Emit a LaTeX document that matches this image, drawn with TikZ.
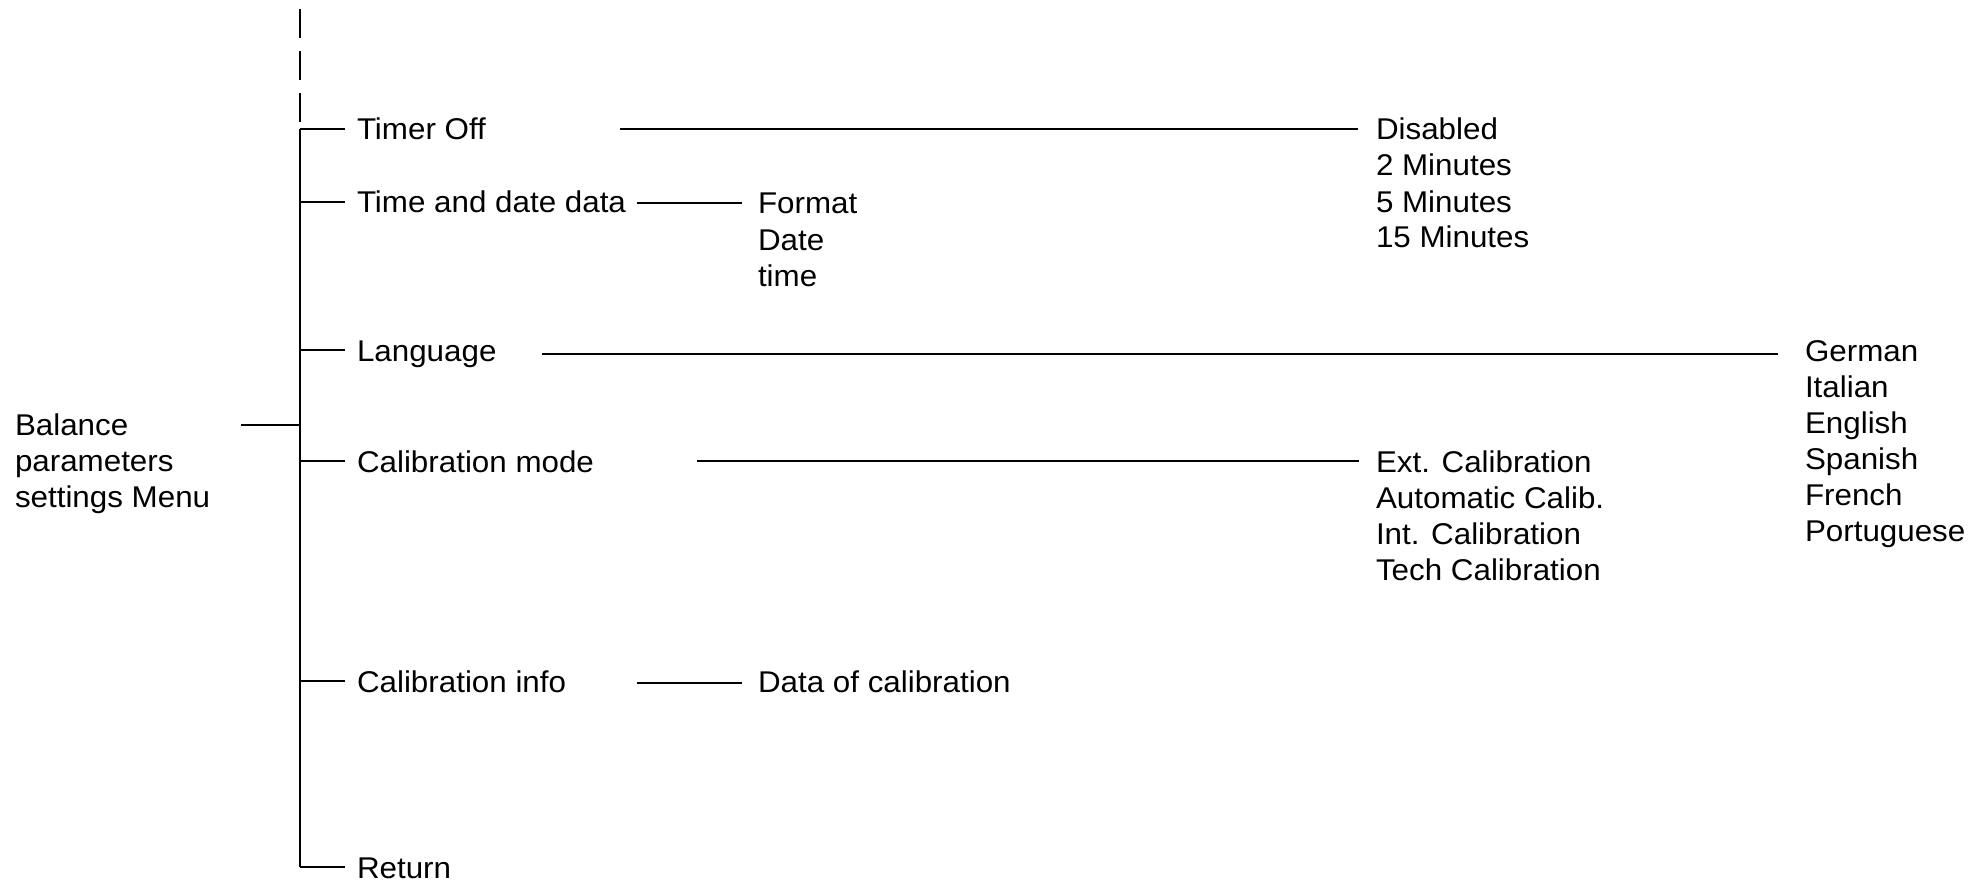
\documentclass[tikz,border=0pt]{standalone}
\usepackage{fontspec}
\setmainfont[FakeStretch=1.045]{Liberation Sans}
\begin{document}
\begin{tikzpicture}[x=0.5pt,y=-0.5pt,
  lbl/.style={anchor=base west,inner sep=0pt,outer sep=0pt,align=left,font=\fontsize{15}{18}\selectfont},
  ln/.style={line width=1.1pt,line cap=butt}]
\useasboundingbox (0,0) rectangle (1986,882);
% nodes (multi-line nodes are placed by the baseline of their last line)
\node[lbl] (bal) at (15,507) {Balance\\parameters\\settings Menu};
\node[lbl] (tim) at (357,140) {Timer Off};
\node[lbl] (tdd) at (357,213) {Time and date data};
\node[lbl] (lan) at (357,361) {Language};
\node[lbl] (cal) at (357,472) {Calibration mode};
\node[lbl] (cin) at (357,692) {Calibration info};
\node[lbl] (ret) at (357,878) {Return};
\node[lbl] (dis) at (1376,248) {Disabled\\2 Minutes\\5 Minutes\\15 Minutes};
\node[lbl] (fmt) at (758,286) {Format\\Date\\time};
\node[lbl] (ger) at (1805,541) {German\\Italian\\English\\Spanish\\French\\Portuguese};
\node[lbl] (ext) at (1376,580) {Ext. Calibration\\Automatic Calib.\\Int. Calibration\\Tech Calibration};
\node[lbl] (dat) at (758,692) {Data of calibration};
% bracket
\coordinate (bx) at (300,0);
\coordinate (dtop) at (300,9);
\coordinate (dbot) at (300,123);
\draw[ln,dash pattern=on 14.75pt off 6.25pt] (dtop) -- (dbot);
\draw[ln] ([yshift=5.5pt]tim.base west -| bx) -- ([yshift=5.5pt]ret.base west -| bx);
\foreach \n in {tim,tdd,lan,cal,cin,ret}{
  \draw[ln] ([xshift=-6pt,yshift=5.5pt]\n.base west) -- ([yshift=5.5pt]\n.base west -| bx);
}
\coordinate (bl) at (241,425);
\draw[ln] (bl) -- (bl -| bx);
% connectors to sub-menus
\coordinate (timc) at (620,129);
\coordinate (tddc) at (637,203);
\coordinate (lanc) at (542,354);
\coordinate (calc) at (697,461);
\coordinate (cinc) at (637,683);
\draw[ln] (timc) -- ([xshift=-9pt]dis.west |- timc);
\draw[ln] (tddc) -- ([xshift=-8pt]fmt.west |- tddc);
\draw[ln] (lanc) -- ([xshift=-13.5pt]ger.west |- lanc);
\draw[ln] (calc) -- ([xshift=-8.5pt]ext.west |- calc);
\draw[ln] (cinc) -- ([xshift=-8pt]dat.west |- cinc);
\end{tikzpicture}
\end{document}
